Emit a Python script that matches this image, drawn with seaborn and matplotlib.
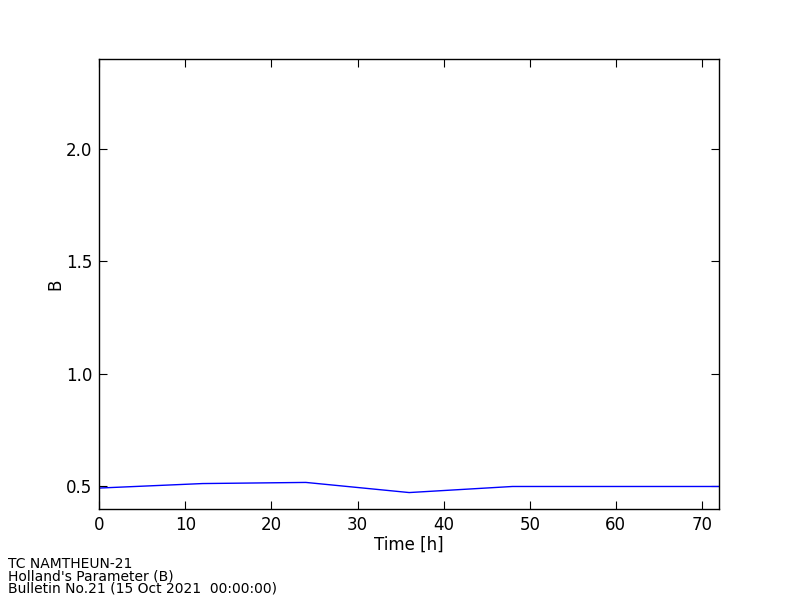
import numpy as np
import pandas as pd
import matplotlib
matplotlib.use('Agg')
import matplotlib.pyplot as plt
import seaborn as sns

## ============================================================= ##

lead_time = [0, 12, 24, 36, 48, 60, 72]
holland_b = [0.493, 0.513, 0.518, 0.473, 0.500, 0.500, 0.500]

info_lines = ['TC NAMTHEUN-21',
              "Holland's Parameter (B)",
              'Bulletin No.21 (15 Oct 2021  00:00:00)']

## ============================================================= ##

sns.set_style('white')
plt.rcParams['font.family'] = ['DejaVu Sans']
plt.rcParams['xtick.direction'] = 'in'
plt.rcParams['ytick.direction'] = 'in'
plt.rcParams['text.color'] = 'k'
plt.rcParams['axes.labelcolor'] = 'k'
plt.rcParams['xtick.color'] = 'k'
plt.rcParams['ytick.color'] = 'k'

df = pd.DataFrame({'time': lead_time, 'B': holland_b})

fig = plt.figure(figsize=(8, 6), dpi=100)
ax = fig.add_axes([0.124, 0.1517, 0.775, 0.75])

sns.lineplot(data=df, x='time', y='B', ax=ax, color='blue', lw=1.0)

ax.set_xlim(0, 72)
ax.set_ylim(0.4, 2.4)
ax.set_xticks(np.arange(0, 80, 10))
ax.set_yticks([0.5, 1.0, 1.5, 2.0])
ax.set_xlabel('Time [h]', fontsize=12, labelpad=1)
ax.set_ylabel('B', fontsize=12, labelpad=1)
ax.tick_params(axis='both', which='both', labelsize=12, length=6, width=0.8,
               top=True, right=True, bottom=True, left=True, color='k', pad=5)
for sp in ax.spines.values():
    sp.set_color('k')
    sp.set_linewidth(1.0)

# footer info block, tight line spacing like the original
fig.text(8 / 800., 1 - 596 / 600., '\n'.join(info_lines), fontsize=10,
         va='bottom', ha='left', linespacing=0.87)

fig.savefig('out.png', dpi=100)
